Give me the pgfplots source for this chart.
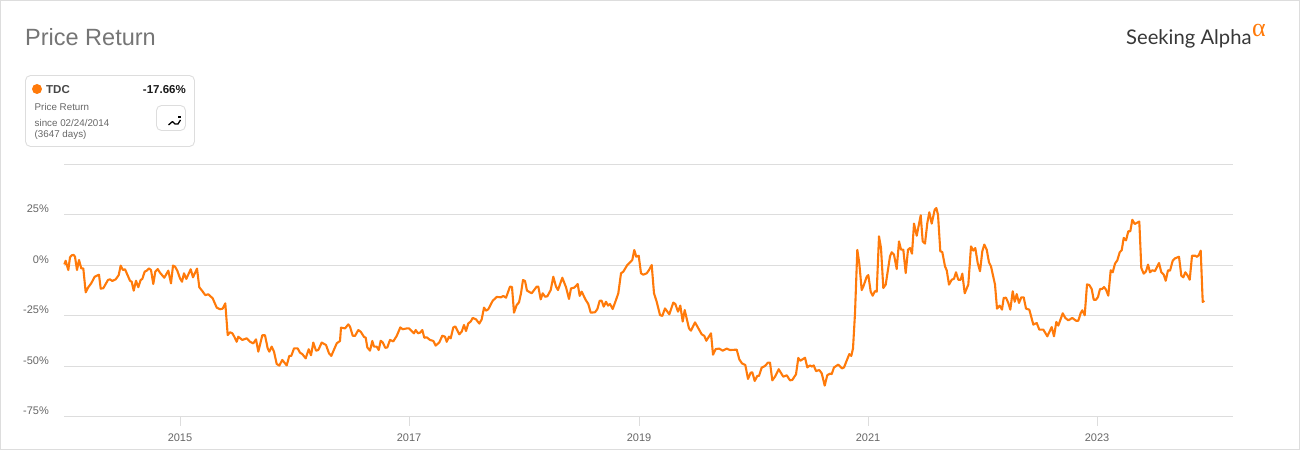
\documentclass[border=0pt]{standalone}
\usepackage{fontspec}
\setmainfont{Liberation Sans}
\newfontfamily\logofont{Lato}
\newfontfamily\alphafont{Liberation Serif}
\usepackage{pgfplots}
\pgfplotsset{compat=1.18}
\usepackage{pgfplotstable}
\definecolor{lineor}{HTML}{FF7A0A}
\definecolor{gridc}{HTML}{DDDDDD}
\definecolor{tickc}{HTML}{666666}
\definecolor{titlec}{HTML}{757575}
\pgfplotstableread{
x y
64.3 0.3
65.7 2.1
68.3 -2.5
70 3.8
71.7 4.8
73.7 5
75 4.1
77 -2.5
79 2.5
81.3 -1.7
83.3 -1.7
85.7 -13.5
88.3 -11
91.3 -9
94.7 -5.8
99 -4.8
100.7 -11.7
103.3 -11.5
108 -7.4
110 -7.1
112.3 -7.9
115.7 -7.1
118.7 -5
120.7 -0.3
123 -2.5
125 -2.1
130 -7.8
131.7 -8.3
133.7 -12.7
136 -7.8
138.3 -11
140.7 -7.4
142.3 -6.9
144.7 -3.3
146.7 -2.8
149 -1.7
151 -2.5
153.3 -9.4
155.3 -3.3
157.7 -2
160 -3.8
164.3 -6.3
168.3 -2.8
171 -9.1
173 -0.3
175 -0.8
177.3 -2.8
180 -6.6
182 -8.3
184 -4.1
186.3 -6.9
190.7 -2.1
193 -6.1
197 -1.8
199.3 -11
202 -12.7
205.3 -14.9
208.3 -14.5
212.7 -16.5
216.7 -21.1
220 -21.9
222.7 -21.6
225.3 -19
227.7 -34.7
230 -33.3
232.3 -33.8
234.3 -35.5
236.7 -38
238.3 -35.5
242.3 -37.1
246.7 -36.3
250 -38
253.3 -38.8
256 -36.8
258.3 -42.9
262.3 -34.8
265 -34.8
267.7 -41.3
269.3 -42.9
271.7 -40.4
274 -42.9
276.7 -49
279.3 -49.8
282.3 -47
286.7 -49.7
289.3 -45
291.3 -45
294 -41.3
297.7 -41.3
300 -43.4
302.3 -44.1
305.7 -46.2
308.7 -41.7
311 -44.7
313.3 -38.4
316 -42.4
318.3 -42.1
321.7 -38.4
326 -39.6
329 -43.7
331.3 -45
336.7 -38.8
340 -37.6
341 -31
345 -31.4
348.3 -29.4
350 -30.5
352.7 -35
355 -35.1
358.3 -32.2
360.7 -33
364 -35.6
365.7 -36
367.3 -40.8
370 -42.4
372.3 -37.6
374 -40.4
376.7 -40.4
378.7 -42.1
380.7 -37.5
382.7 -38.3
385.3 -41
387.3 -40.8
390 -37.1
393.3 -37.8
396.7 -35.1
400.3 -30.9
402.7 -31.8
406.7 -31.4
409 -31.4
414 -33.8
415.7 -32.2
418 -33.8
420 -33.5
422.3 -32.2
424.3 -36
426.7 -35.8
430 -37.1
433.3 -37.6
435.7 -39.9
439.3 -38.3
442.3 -35
445 -35.5
446.7 -38
449 -35.5
450.7 -36.3
453.3 -30.9
455.3 -30.4
459.3 -34.3
461.7 -33
464 -29.7
466 -32.7
468.3 -28.9
470.7 -28
472.7 -26.2
476 -26.9
479.3 -29
481.7 -26.9
484 -21.1
486 -22.6
488.3 -21.9
492.7 -17.7
496.7 -15.8
501 -16
503.3 -15.3
506 -16.2
510 -10.7
512 -10.9
514 -23.6
516.7 -19.8
519 -18.5
521 -14
523 -7.4
525 -7.9
527 -12.7
531.7 -14
536.7 -10.7
538.3 -10.7
540.7 -17
542.7 -14
545 -15.7
547.3 -15.5
550.7 -12.4
553.3 -5.8
556 -10.7
558 -12.4
562.3 -6.3
566 -11
569 -16.8
571 -11.6
574.3 -11.2
577.7 -9.4
579.7 -15.3
581.7 -13.2
585.7 -17.3
588.3 -19.3
590.7 -23.6
595 -23.4
597.3 -21.9
599.7 -17.7
601.7 -17.7
603.7 -20.6
606 -18.2
608 -20.1
610 -19.3
612.7 -21.8
615.7 -17.7
618.3 -14
621 -4.1
623.3 -3.3
627.3 0
632.3 2.5
634.3 7.4
636.3 4.1
638.7 4.6
641 -4.1
643.3 -4.8
646.7 -4.1
649 -2.5
651.7 0
654 -14
656.7 -18.2
660 -24.8
662.3 -25.2
665 -21.5
669.3 -24.4
673.3 -18.6
675.3 -19.3
678 -23.1
680.3 -20.1
682.7 -28
684.7 -22.3
689 -31.4
691 -32.5
695 -28.4
701.7 -34.3
704.3 -35.1
706.3 -37.5
711 -33.8
713 -44.4
715.7 -41.6
719.3 -41.4
722.7 -42.4
726.7 -41.4
730 -42.1
736.7 -41.9
739.3 -46.7
742 -48.7
745.3 -49.5
748 -56.4
750.7 -53.3
752.3 -53.1
754.7 -57.4
757.3 -54.9
759 -54.9
761.7 -50.8
765 -50
768 -48.3
770 -48.3
772.3 -57.1
775 -55.3
778.7 -51.6
783.3 -55.3
786.7 -54.6
790 -57.1
792.3 -56.9
796 -54.1
798.3 -46
800.3 -47.4
805 -45.9
807.3 -50.7
810 -49.7
812 -50.3
813.7 -49.7
816 -52.5
819.3 -52
821.7 -53.6
824.7 -59.7
827.3 -54.5
830 -53.8
831.7 -54
834 -50.7
838.3 -49.3
842 -51.2
844 -50.7
849.3 -44.1
851.3 -45
853 -41.3
855 -23.9
857.3 7.5
859.3 0.8
861.7 -12.4
863.3 -10.7
866.7 -5.8
868.3 -5
870.7 -13.2
872.7 -15.2
875 -12.9
876.7 -13.2
879 14.2
881 8.4
883.3 -11.4
885.7 -9.7
890 4.3
891.7 6.3
894 5.1
896.7 -2
899 11.7
901 7.6
903.3 7.6
905.7 -4
908 7.6
910 8.4
912 5.6
914 20.5
916.7 14.5
920.7 24.6
922.7 11.7
925 10.6
927.3 20.8
929.3 26.1
931.7 20.5
934.7 27.4
936.3 28.2
938 24.9
940.3 6.8
942.3 6.4
945 -0.7
946.7 -2.6
949 -9.7
951.7 -7.3
954 -6.8
956 -3.6
958.3 -7.3
960.7 -7.3
962.3 -4.3
964.7 -14
968.3 -9.7
971 9.2
973.3 7.1
975.3 8.4
977.7 1
980 -3.1
982.3 6.8
984.3 10.1
986.7 7.6
989 1.3
991 -0.7
995 -9.7
997 -21.6
999.7 -20.1
1002 -22.1
1003.7 -16.3
1006 -16.2
1008.3 -18.8
1010.3 -22.1
1012.7 -13
1014.7 -18.2
1016.7 -14.4
1019 -18.8
1021.3 -16
1023.7 -16
1026 -21.6
1029.3 -22.1
1033.3 -29.5
1036.7 -28.7
1039.3 -32
1043.3 -32
1047.3 -35.3
1051.7 -30.7
1054 -35.3
1056.3 -28.2
1058.3 -30
1062.7 -23.9
1065.3 -26.2
1068.3 -27.4
1072.3 -26.2
1076 -27.6
1078.3 -27.6
1080.7 -23.8
1082.3 -22.4
1084.7 -24.9
1087 -9.6
1089.3 -9.9
1091.7 -11.9
1093.7 -17.2
1096 -17.2
1098 -15.8
1100 -11.9
1102 -11.9
1104 -10.9
1106 -12.2
1108.3 -15.2
1110.7 -2.6
1112.7 -3.6
1115 0.7
1117.3 2.3
1119.7 6.3
1121.7 7.3
1123.7 13.4
1126 12.2
1128.3 16.7
1130.3 16.7
1132.3 22.4
1134.7 20.3
1139.3 21.5
1141.3 -1.5
1143.7 -4.3
1146 -3.1
1148 0.2
1150 -3.6
1152.3 -2.6
1155 -3
1159 1
1161.3 -3.6
1163.7 -4.8
1165.7 -7.8
1168 -2.6
1170 -2.8
1172.7 2.1
1175 3.3
1179 4.1
1181.3 -5.3
1183.3 -6.1
1185.3 -3.6
1187.7 -5.3
1189.7 -7.3
1192 4.6
1195.3 4.6
1197 4
1199 5.1
1200.7 7.1
1202.7 -18.3
1204.3 -17.66
}\pricedata
\begin{document}
\begin{tikzpicture}[x=1pt,y=1pt]
\path[use as bounding box] (0,0) rectangle (1300,450);
\draw[gridc,line width=1pt] (0.5,0.5) rectangle (1299.5,449.5);
\node[anchor=west,inner sep=0,text=titlec,font=\fontsize{23.5}{26}\selectfont] at (25,413) {Price Return};
% logo
\node[anchor=west,inner sep=0,text=black!78,font=\logofont\fontsize{20.2}{24}\selectfont] at (1126,411.5) {Seeking Alpha};
\node[anchor=west,inner sep=0,text=lineor,font=\alphafont\fontsize{26}{26}\selectfont] at (1252,420) {α};
% card
\draw[gridc,line width=0.9pt,rounded corners=5pt] (25.5,374.5) rectangle (194.5,303.5);
\fill[lineor] (37,361) circle (5);
\node[anchor=west,inner sep=0,text=black!72,font=\bfseries\fontsize{11.5}{13}\selectfont] at (46,360.5) {TDC};
\node[anchor=east,inner sep=0,text=black!90,font=\bfseries\fontsize{11.5}{13}\selectfont] at (186,360.5) {-17.66\%};
\node[anchor=west,inner sep=0,text=tickc,font=\fontsize{9.8}{11}\selectfont] at (34.5,343.5) {Price Return};
\node[anchor=west,inner sep=0,text=tickc,font=\fontsize{9.8}{11}\selectfont] at (34.5,327.5) {since 02/24/2014};
\node[anchor=west,inner sep=0,text=tickc,font=\fontsize{9.8}{11}\selectfont] at (34.5,315.5) {(3647 days)};
\draw[gridc,line width=0.9pt,rounded corners=5pt] (156.5,344.5) rectangle (185.5,319.5);
\draw[black,line width=1.3pt,line join=round] (168.5,325) -- (172.5,328.5) -- (175,326) -- (178,326) -- (180.5,330);
\draw[black,line width=1.2pt] (178,333) -- (181,333);
\begin{axis}[
  at={(64pt,33.5pt)},anchor=south west,
  scale only axis,width=1169pt,height=252.5pt,
  xmin=64,xmax=1233,ymin=-75,ymax=50,
  axis line style={draw=none},
  xtick={180,409,639,868,1097},
  xticklabels={2015,2017,2019,2021,2023},
  ytick={-75,-50,-25,0,25,50},
  yticklabels={-75\%,-50\%,-25\%,0\%,25\%,},
  ymajorgrids,
  grid style={gridc,line width=0.9pt},
  xtick pos=bottom,ytick pos=left,
  xtick align=outside,
  ytick align=outside,
  major tick length=9pt,
  x tick style={draw=gridc,line width=0.9pt},
  y tick style={draw=none},
  tick label style={font=\fontsize{11}{13}\selectfont,text=tickc},
  y tick label style={anchor=east,xshift=-6pt,yshift=5.5pt,inner sep=0pt},
  x tick label style={anchor=north,yshift=-8pt,inner sep=0pt},
  clip=false,
]
\addplot[color=lineor,line width=2.1pt,line join=round,no markers] table[x=x,y=y] {\pricedata};
\end{axis}
\end{tikzpicture}
\end{document}
